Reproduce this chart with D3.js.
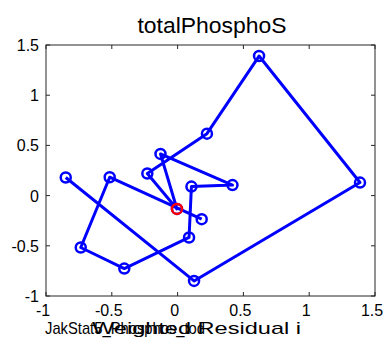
<!DOCTYPE html>
<html><head><meta charset="utf-8">
<script src="https://cdn.jsdelivr.net/npm/d3@7"></script>
<style>body{margin:0;background:#fff}svg{display:block}text{font-family:"Liberation Sans",Arial,sans-serif}</style>
</head><body><svg id="c" width="391" height="352"></svg>
<script>
const titleText = "totalPhosphoS";
const xLabelA = "JakStat5_Phosphos_tod";
const xLabelB = "Weighted Residual i";
const xTicks = [-1, -0.5, 0, 0.5, 1, 1.5];
const yTicks = [-1, -0.5, 0, 0.5, 1, 1.5];
const xTickLabels = ["-1", "-0.5", "0", "0.5", "1", "1.5"];
const yTickLabels = ["-1", "-0.5", "0", "0.5", "1", "1.5"];
// residual i (x) and residual i+1 (y), in path order
const resX = [-0.85, 0.125, 1.386, 0.619, 0.223, -0.23, -0.005, -0.13, 0.417, 0.105, 0.087, -0.405, -0.736, -0.516, 0.183];
const resY = [0.18, -0.85, 0.13, 1.39, 0.617, 0.22, -0.133, 0.415, 0.105, 0.09, -0.417, -0.727, -0.517, 0.183, -0.235];
const highlightIndex = [6];

const svg = d3.select("#c");
const L = 46, R = 375, T = 45, B = 296;
const x = d3.scaleLinear().domain([-1, 1.5]).range([L, R]);
const y = d3.scaleLinear().domain([-1, 1.5]).range([B, T]);

// box
svg.append("rect").attr("x", L).attr("y", T).attr("width", R - L).attr("height", B - T)
  .attr("fill", "#fff").attr("stroke", "#262626").attr("stroke-width", 1);

const tl = 4;
const g = svg.append("g").attr("stroke", "#262626").attr("stroke-width", 1);
xTicks.forEach(v => {
  g.append("line").attr("x1", x(v)).attr("x2", x(v)).attr("y1", B).attr("y2", B - tl);
  g.append("line").attr("x1", x(v)).attr("x2", x(v)).attr("y1", T).attr("y2", T + tl);
});
yTicks.forEach(v => {
  g.append("line").attr("y1", y(v)).attr("y2", y(v)).attr("x1", L).attr("x2", L + tl);
  g.append("line").attr("y1", y(v)).attr("y2", y(v)).attr("x1", R).attr("x2", R - tl);
});

svg.append("g").selectAll("text").data(xTicks).join("text")
  .attr("x", d => x(d) - 3).attr("y", B + 20).attr("text-anchor", "middle")
  .attr("font-size", 16).attr("fill", "#000").text((d, i) => xTickLabels[i]);
svg.append("g").selectAll("text").data(yTicks).join("text")
  .attr("x", L - 7).attr("y", d => y(d) + 6).attr("text-anchor", "end")
  .attr("font-size", 16).attr("fill", "#000").text((d, i) => yTickLabels[i]);

svg.append("text").attr("x", 212).attr("y", 33).attr("text-anchor", "middle")
  .attr("font-size", 22).attr("textLength", 149).attr("lengthAdjust", "spacingAndGlyphs")
  .attr("fill", "#000").text(titleText);
svg.append("text").attr("x", 45).attr("y", 334).attr("font-size", 17)
  .attr("textLength", 160).attr("lengthAdjust", "spacingAndGlyphs").attr("fill", "#000").text(xLabelA);
svg.append("text").attr("x", 92).attr("y", 334).attr("font-size", 17)
  .attr("textLength", 209).attr("lengthAdjust", "spacingAndGlyphs").attr("fill", "#000").text(xLabelB);

const pts = resX.map((v, i) => [v, resY[i]]);
const line = d3.line().x(d => x(d[0])).y(d => y(d[1]));
svg.append("path").datum(pts).attr("d", line).attr("fill", "none")
  .attr("stroke", "#0000ff").attr("stroke-width", 3).attr("stroke-linejoin", "round");
svg.append("g").selectAll("circle").data(pts).join("circle")
  .attr("cx", d => x(d[0])).attr("cy", d => y(d[1])).attr("r", 5)
  .attr("fill", "none").attr("stroke", "#0000ff").attr("stroke-width", 2.5);
svg.append("g").selectAll("circle").data(highlightIndex).join("circle")
  .attr("cx", i => x(resX[i])).attr("cy", i => y(resY[i])).attr("r", 5)
  .attr("fill", "none").attr("stroke", "#ff0000").attr("stroke-width", 2.5);
</script></body></html>
